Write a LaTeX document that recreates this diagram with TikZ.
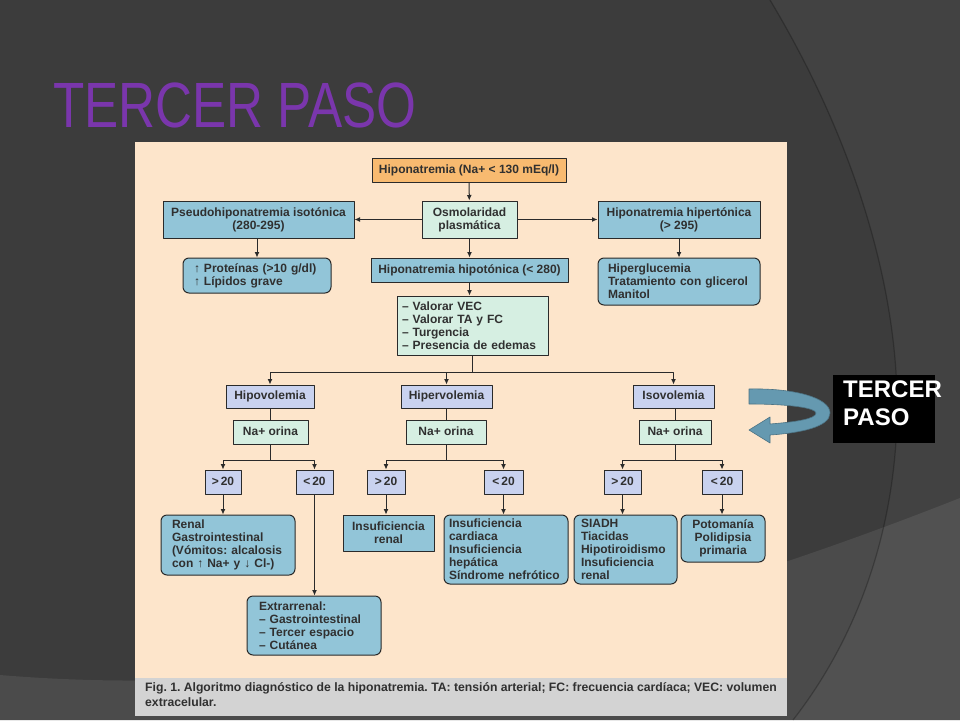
\documentclass[tikz,border=0pt]{standalone}
\usepackage{fontspec}
\setmainfont{Liberation Sans}
\newfontfamily\titlefont[FakeStretch=0.8]{Liberation Sans}
\usetikzlibrary{arrows.meta}
\definecolor{bgdark}{HTML}{3C3C3C}
\definecolor{bglow}{HTML}{4B4B4B}
\definecolor{cream}{HTML}{FDE5CB}
\definecolor{capgray}{HTML}{D3D3D3}
\definecolor{boxorange}{HTML}{F8BA70}
\definecolor{boxgreen}{HTML}{D6EFE2}
\definecolor{boxblue}{HTML}{92C5D8}
\definecolor{boxlav}{HTML}{C9D2EF}
\definecolor{linegray}{HTML}{2A2A2A}
\definecolor{inkgray}{HTML}{303030}
\definecolor{titlepurple}{HTML}{7A36AC}
\definecolor{arrowblue}{HTML}{6599B0}
\begin{document}
\frenchspacing
\begin{tikzpicture}[x=1pt,y=-1pt,line join=round,>={Latex[length=5.5pt,width=5pt]},
  base/.style={draw=linegray,line width=1pt,inner sep=2pt,align=center,text=inkgray,
    font=\bfseries\fontsize{12}{13}\selectfont},
  one/.style={text height=9pt,text depth=2.5pt},
  obox/.style={base,one,fill=boxorange},
  gbox/.style={base,fill=boxgreen},
  bbox/.style={base,fill=boxblue},
  rbox/.style={base,fill=boxblue,rounded corners=6pt},
  lbox/.style={base,one,fill=boxlav},
  conn/.style={draw=linegray,line width=1pt}]
  % slide background
  \useasboundingbox (0,0) rectangle (960,720);
  \fill[bgdark] (0,0) rectangle (960,720);
  \fill[bglow] (0,675) .. controls (300,700) and (600,640) .. (960,498) -- (960,720) -- (0,720) -- cycle;
  \fill[white,fill opacity=.035] (770,0) .. controls (860,150) and (900,300) .. (897,420)
    .. controls (893,560) and (840,660) .. (793,720) -- (960,720) -- (960,0) -- cycle;
  \draw[black,opacity=.25,line width=1.2pt] (770,0) .. controls (860,150) and (900,300) .. (897,420)
    .. controls (893,560) and (840,660) .. (793,720);
  \node[anchor=base west,inner sep=0,text=titlepurple,font=\titlefont\fontsize{64}{64}\selectfont] (title) at (53,127) {TERCER PASO};
  % figure panel
  \fill[cream] (135,142) rectangle (787,678);
  \fill[capgray] (135,678) rectangle (787,716);
  \node[anchor=north west,inner sep=0,align=left,text=inkgray,font=\bfseries\fontsize{12.2}{15}\selectfont] (caption) at (145,682)
    {Fig. 1. Algoritmo diagnóstico de la hiponatremia. TA: tensión arterial; FC: frecuencia cardíaca; VEC: volumen\\extracelular.};
  % top part
  \node[obox,minimum width=194,minimum height=24] (hna) at (469,170) {Hiponatremia (Na+ < 130 mEq/l)};
  \node[gbox,minimum width=95,minimum height=37] (osm) at (469.5,219.5) {Osmolaridad\\plasmática};
  \node[bbox,minimum width=191,minimum height=37] (pseudo) at (258.5,219.5) {Pseudohiponatremia isotónica\\(280-295)};
  \node[bbox,minimum width=162,minimum height=37] (hiper) at (679,219.5) {Hiponatremia hipertónica\\(> 295)};
  \node[rbox,minimum height=35,text width=126,inner xsep=11,align=left] (prot) at (257,275.5) {↑ Proteínas (>10 g/dl)\\↑ Lípidos grave};
  \node[bbox,one,minimum width=197,minimum height=24] (hipot) at (469.5,270) {Hiponatremia hipotónica (< 280)};
  \node[rbox,minimum height=47,text width=142,inner xsep=10,align=left] (gluc) at (679,281.5) {Hiperglucemia\\Tratamiento con glicerol\\Manitol};
  \node[gbox,minimum height=59,text width=141,inner xsep=5,align=left] (val) at (472.5,325.5) {-- Valorar VEC\\-- Valorar TA y FC\\-- Turgencia\\-- Presencia de edemas};
  % volemia
  \node[lbox,minimum width=88,minimum height=23] (hipov) at (270,396.5) {Hipovolemia};
  \node[lbox,minimum width=91,minimum height=23] (hiperv) at (446.5,396.5) {Hipervolemia};
  \node[lbox,minimum width=81,minimum height=23] (isov) at (673.5,396.5) {Isovolemia};
  \node[gbox,one,minimum width=75,minimum height=24] (na1) at (270.5,432) {Na+ orina};
  \node[gbox,one,minimum width=80,minimum height=24] (na2) at (446,432) {Na+ orina};
  \node[gbox,one,minimum width=72,minimum height=24] (na3) at (675,432) {Na+ orina};
  \foreach \n/\x/\w/\t in {g1/223/36/>\,20, l1/314.5/37/<\,20, g2/386/38/>\,20, l2/503.5/39/<\,20, g3/622.5/37/>\,20, l3/722/40/<\,20}
    \node[lbox,minimum width=\w,minimum height=24] (\n) at (\x,482) {\t};
  % results
  \node[rbox,minimum height=60,text width=112,inner xsep=11,align=left] (renal) at (228,545) {Renal\\Gastrointestinal\\(Vómitos: alcalosis\\con ↑ Na+ y ↓ Cl-)};
  \node[bbox,minimum width=91,minimum height=36] (insren) at (388.5,533) {Insuficiencia\\renal};
  \node[rbox,minimum height=69,text width=114,inner xsep=5,align=left] (card) at (506,549.5) {Insuficiencia\\cardiaca\\Insuficiencia\\hepática\\Síndrome nefrótico};
  \node[rbox,minimum height=69,text width=89,inner xsep=7,align=left] (siadh) at (625.5,549.5) {SIADH\\Tiacidas\\Hipotiroidismo\\Insuficiencia\\renal};
  \node[rbox,minimum width=84,minimum height=47] (poto) at (723,538.5) {Potomanía\\Polidipsia\\primaria};
  \node[rbox,minimum height=59,text width=110,inner xsep=12,align=left] (extra) at (314,625.5) {Extrarrenal:\\-- Gastrointestinal\\-- Tercer espacio\\-- Cutánea};
  % connectors
  \draw[conn,->] (hna) -- (osm);
  \draw[conn,->] (osm) -- (pseudo);
  \draw[conn,->] (osm) -- (hiper);
  \draw[conn,->] (osm) -- (hipot);
  \draw[conn,->] (pseudo.south -| prot) -- (prot);
  \draw[conn,->] (hiper) -- (gluc);
  \draw[conn,->] (hipot) -- (val.north -| hipot);
  \foreach \v in {hipov,hiperv,isov}
    \draw[conn,->] (val.south) -- ++(0,17) -| (\v.north);
  \foreach \v/\n in {hipov/na1,hiperv/na2,isov/na3}
    \draw[conn] (\v.south -| \n) -- (\n);
  \foreach \n/\g/\l in {na1/g1/l1,na2/g2/l2,na3/g3/l3}{
    \draw[conn,->] (\n.south) -- ++(0,16) -| (\g.north);
    \draw[conn,->] (\n.south) -- ++(0,16) -| (\l.north);
  }
  \foreach \a/\b in {g1/renal,l1/extra,g2/insren,l2/card,g3/siadh,l3/poto}
    \draw[conn,->] (\a.south) -- (\a.south |- \b.north);
  % label on the slide
  \fill[arrowblue,draw=arrowblue!75!black,line width=.6pt] (749,389) .. controls (795,388) and (830,398) .. (830,413)
    .. controls (830,427) and (800,433) .. (770,435) -- (770,443) -- (749,430) -- (770,417) -- (770,424)
    .. controls (795,422) and (816,419) .. (816,413) .. controls (816,408) and (790,404) .. (749,404) -- cycle;
  \fill[black] (833,375) rectangle (935,443);
  \node[anchor=north west,inner sep=0,align=left,text=white,font=\bfseries\fontsize{24}{28}\selectfont] (paso) at (843,381) {TERCER\\PASO};
\end{tikzpicture}
\end{document}
